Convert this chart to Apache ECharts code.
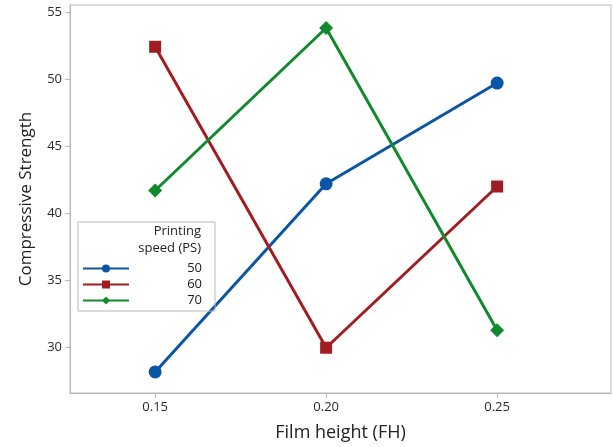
<!DOCTYPE html>
<html>
<head>
<meta charset="utf-8">
<script src="https://cdn.jsdelivr.net/npm/echarts@6/dist/echarts.min.js"></script>
<style>
	html, body { margin: 0; padding: 0; background: #fff; }
	#main { width: 613px; height: 447px; }
</style>
</head>
<body>
<div id="main"></div>
<script>
// 数据
var filmHeight = [0.15, 0.20, 0.25];
var speedNames = ['50', '60', '70'];
var ps50 = [28.2, 42.2, 49.7];
var ps60 = [52.4, 30.0, 42.0];
var ps70 = [41.7, 53.8, 31.3];
var yTicks = [30, 35, 40, 45, 50, 55];

function pairs(vals) {
	return filmHeight.map(function(x, i) { return [x, vals[i]]; });
}

function lineSeries(name, vals, color, symbol, size) {
	return {
		name: name,
		type: 'line',
		data: pairs(vals),
		symbol: symbol,
		symbolSize: size,
		showSymbol: true,
		lineStyle: { color: color, width: 3 },
		itemStyle: { color: color },
		emphasis: { disabled: true }
	};
}

var chart = echarts.init(document.getElementById('main'));
var font = 'Open Sans';

option = {
	animation: false,
	textStyle: { fontFamily: font },
	grid: {
		left: 70, right: 2, top: 5, bottom: 48,
		show: true,
		borderColor: '#b8b8b8',
		borderWidth: 1
	},
	xAxis: {
		type: 'value',
		min: 0.1251,
		max: 0.2833,
		name: 'Film height (FH)',
		nameLocation: 'middle',
		nameGap: 31,
		nameTextStyle: { fontSize: 18, color: '#222', fontFamily: font },
		axisLine: { show: true, lineStyle: { color: '#b8b8b8' } },
		axisTick: { show: true, length: 5, lineStyle: { color: '#b8b8b8' }, customValues: filmHeight },
		axisLabel: {
			fontSize: 13, color: '#2a2a2a', margin: 8,
			customValues: filmHeight,
			formatter: function(v) { return v.toFixed(2); }
		},
		splitLine: { show: false }
	},
	yAxis: {
		type: 'value',
		min: 26.63,
		max: 55.51,
		name: 'Compressive Strength',
		nameLocation: 'middle',
		nameGap: 35,
		nameTextStyle: { fontSize: 17, color: '#222', fontFamily: font },
		axisLine: { show: true, lineStyle: { color: '#b8b8b8' } },
		axisTick: { show: true, length: 5, lineStyle: { color: '#b8b8b8' }, customValues: yTicks },
		axisLabel: { fontSize: 13, color: '#2a2a2a', margin: 8, customValues: yTicks },
		splitLine: { show: false }
	},
	legend: {
		orient: 'vertical',
		left: 78,
		top: 222,
		padding: [40, 13, 4, 4],
		itemGap: 3,
		itemWidth: 46,
		itemHeight: 10,
		borderColor: '#b8b8b8',
		borderWidth: 1,
		data: speedNames,
		formatter: '{a|{name}}',
		textStyle: {
			rich: { a: { width: 68, align: 'right', fontSize: 13, color: '#222', fontFamily: font } }
		},
		selectedMode: false
	},
	graphic: [{
		type: 'text',
		right: 613 - 201,
		top: 225,
		style: { text: 'Printing', fontSize: 13, fill: '#222', fontFamily: font }
	}, {
		type: 'text',
		right: 613 - 201,
		top: 242,
		style: { text: 'speed (PS)', fontSize: 13, fill: '#222', fontFamily: font }
	}],
	series: [
		lineSeries('50', ps50, '#0a55a6', 'circle', 13),
		lineSeries('60', ps60, '#a11d21', 'rect', 12),
		lineSeries('70', ps70, '#118a2e', 'diamond', 14)
	]
};
chart.setOption(option);
</script>
</body>
</html>
